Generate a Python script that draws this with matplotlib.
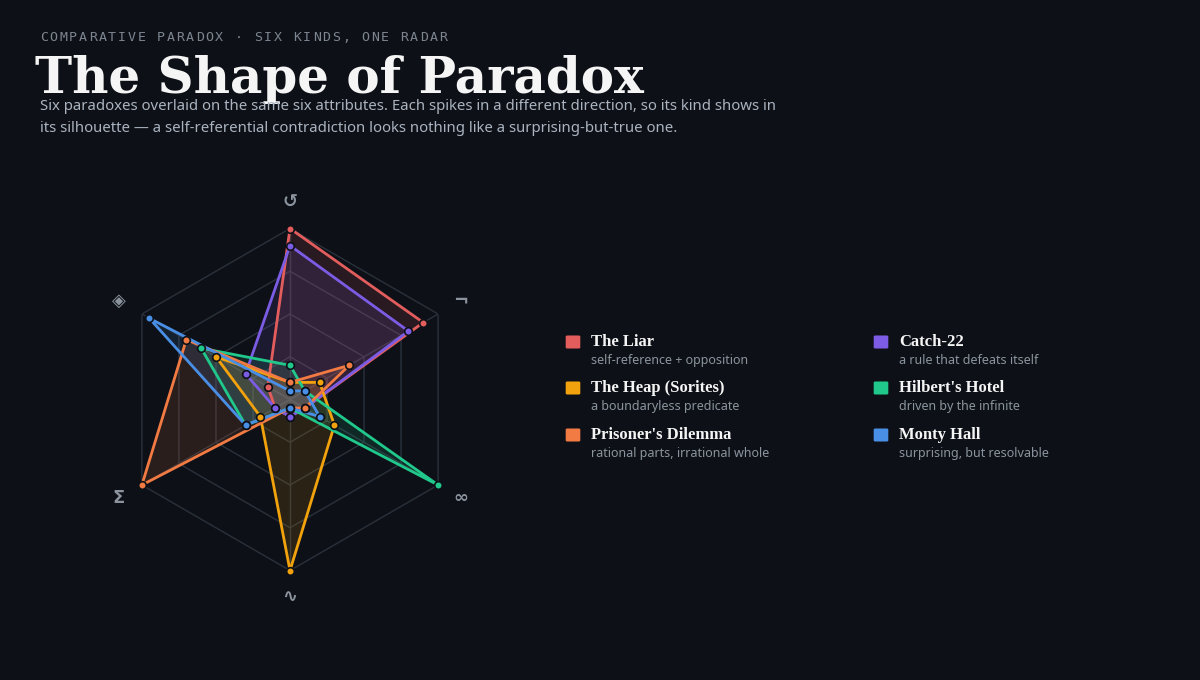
import numpy as np
import matplotlib
matplotlib.use("Agg")
import matplotlib.pyplot as plt
from matplotlib.patches import FancyBboxPatch

#%% data
axis_symbols = ['↺', '¬', '∞', '∿', 'Σ', '◈']
names = ['The Liar', 'Catch-22', 'The Heap (Sorites)', "Hilbert's Hotel",
         "Prisoner's Dilemma", 'Monty Hall']
notes = ['self-reference + opposition', 'a rule that defeats itself',
         'a boundaryless predicate', 'driven by the infinite',
         'rational parts, irrational whole', 'surprising, but resolvable']
colors = ['#e35d5d', '#7c5ce4', '#f2a20c', '#20c98b', '#f27a43', '#4a8fe6']

liar = [1.0, 0.9, 0.1, 0.1, 0.1, 0.15]
catch22 = [0.9, 0.8, 0.1, 0.1, 0.1, 0.3]
heap = [0.1, 0.2, 0.3, 1.0, 0.2, 0.5]
hilbert = [0.2, 0.1, 1.0, 0.05, 0.3, 0.6]
prisoner = [0.1, 0.4, 0.1, 0.05, 1.0, 0.7]
monty = [0.05, 0.1, 0.2, 0.05, 0.3, 0.95]
series = [liar, catch22, heap, hilbert, prisoner, monty]

rings = [0.25, 0.5, 0.75, 1.0]

#%% figure
W, H = 1200, 680
bg = '#0d1117'
fig = plt.figure(figsize=(12, 6.8), dpi=100, facecolor=bg)

def fx(x):
    return x / W

def fy(y):
    return 1 - y / H

# eyebrow, letter-spaced mono
eyebrow = 'COMPARATIVE PARADOX · SIX KINDS, ONE RADAR'
for i, ch in enumerate(eyebrow):
    fig.text(fx(40 + i * 9.74), fy(37.5), ch, family='DejaVu Sans Mono',
             fontsize=9.5, color='#7d8590', va='center', ha='left')

fig.text(fx(35), fy(93), 'The Shape of Paradox', family='DejaVu Serif',
         fontweight='bold', fontsize=36, color='#f5f5f5', va='baseline')
fig.text(fx(40), fy(106), 'Six paradoxes overlaid on the same six attributes. Each spikes in a different direction, so its kind shows in',
         family='Noto Sans', fontsize=10.75, color='#aab3bf', va='center')
fig.text(fx(40), fy(129), 'its silhouette — a self-referential contradiction looks nothing like a surprising-but-true one.',
         family='Noto Sans', fontsize=10.75, color='#aab3bf', va='center')

#%% radar
cx, cy, R = 290, 399.5, 171
ax = fig.add_axes([fx(cx - R), fy(cy + R), 2 * R / W, 2 * R / H], polar=True)
ax.set_facecolor('none')
ax.set_theta_zero_location('N')
ax.set_theta_direction(-1)
ax.set_ylim(0, 1)
ax.grid(False)
ax.spines['polar'].set_visible(False)
ax.set_xticks([])
ax.set_yticks([])

theta = np.deg2rad(np.arange(len(axis_symbols)) * 60)
theta_c = np.append(theta, theta[0])

grid_col = '#2a313c'
for r in rings:
    ax.plot(theta_c, [r] * len(theta_c), color=grid_col, lw=1, zorder=1)
for t in theta:
    ax.plot([t, t], [0, 1], color=grid_col, lw=1, zorder=1)

for vals, col in zip(series, colors):
    v = np.append(vals, vals[0])
    ax.fill(theta_c, v, color=col, alpha=0.13, lw=0, zorder=2)
    ax.plot(theta_c, v, color=col, lw=2, zorder=3)
    ax.plot(theta, vals, 'o', ms=5.5, mfc=col, mec=bg, mew=1.2, zorder=4,
            clip_on=False)

for t, s in zip(theta, axis_symbols):
    ax.text(t, 1.155, s, ha='center', va='center', fontsize=13,
            fontweight='bold', color='#8b949e', family='DejaVu Sans')

#%% legend
col_x = [566, 874]
row_y = [342, 388, 435]
for i, (nm, nt, col) in enumerate(zip(names, notes, colors)):
    x0 = col_x[i % 2]
    y0 = row_y[i // 2]
    sw = FancyBboxPatch((fx(x0 + 1.5), fy(y0 + 5.5)), 11 / W, 11 / H,
                        boxstyle='round,pad=0.0015', transform=fig.transFigure,
                        facecolor=col, edgecolor='none')
    fig.patches.append(sw)
    fig.text(fx(x0 + 25), fy(y0), nm, family='Liberation Serif',
             fontweight='bold', fontsize=12, color='#f5f5f5', va='center')
    fig.text(fx(x0 + 25), fy(y0 + 18.5), nt, family='Noto Sans',
             fontsize=9, color='#8b949e', va='center')

fig.savefig('out.png', dpi=100, facecolor=bg)
